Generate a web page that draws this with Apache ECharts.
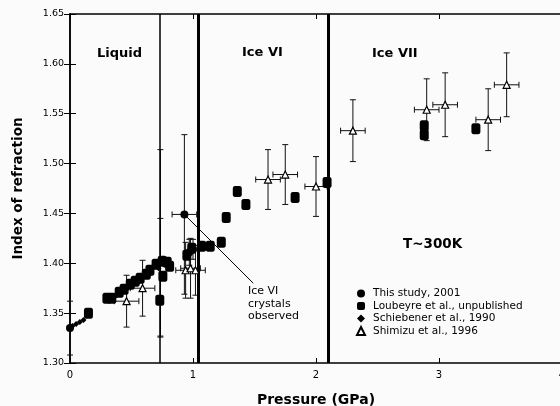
<!DOCTYPE html>
<html><head><meta charset="utf-8">
<script src="https://cdn.jsdelivr.net/npm/echarts@6/dist/echarts.min.js"></script>
<style>html,body{margin:0;padding:0;background:#fbfbfb;overflow:hidden}#c{width:560px;height:406px}</style>
</head><body><div id="c"></div>
<script>
// ---- data ----
const xTicks = [0, 1, 2, 3, 4];
const yTicks = [1.30, 1.35, 1.40, 1.45, 1.50, 1.55, 1.60, 1.65];
const seriesNames = ['This study, 2001', 'Loubeyre et al., unpublished', 'Schiebener et al., 1990', 'Shimizu et al., 1996'];
// This study: [P, n, errP, errN]
const thisStudy = [
  [0.00, 1.335, 0.02, 0.027],
  [0.93, 1.449, 0.10, 0.080],
  [0.97, 1.411, 0.00, 0.013],
  [1.00, 1.414, 0.00, 0.010],
  [0.735, 1.420, 0.00, 0.094],
  [0.735, 1.386, 0.00, 0.059]
];
// Loubeyre squares: [P, n]
const loubeyre = [
  [0.15, 1.350], [0.30, 1.365], [0.34, 1.365], [0.40, 1.371], [0.44, 1.374],
  [0.49, 1.379], [0.53, 1.382], [0.57, 1.385], [0.62, 1.389], [0.65, 1.393],
  [0.70, 1.399], [0.75, 1.402], [0.79, 1.401], [0.81, 1.397], [0.73, 1.363],
  [0.755, 1.387], [0.95, 1.408], [0.99, 1.415], [1.07, 1.417], [1.14, 1.417],
  [1.23, 1.421], [1.27, 1.446], [1.36, 1.472], [1.43, 1.459], [1.83, 1.466],
  [2.09, 1.481], [2.88, 1.538], [2.88, 1.529], [3.30, 1.535]
];
// Schiebener small diamonds: [P, n]
const schiebener = [
  [0.02, 1.337], [0.05, 1.339], [0.08, 1.341], [0.11, 1.343],
  [0.38, 1.368], [0.46, 1.374], [0.55, 1.380], [0.64, 1.388], [0.72, 1.395]
];
// Shimizu open triangles: [P, n, errP, errN]
const shimizu = [
  [0.46, 1.362, 0.10, 0.026], [0.59, 1.375, 0.10, 0.028],
  [0.94, 1.393, 0.08, 0.028], [0.98, 1.395, 0.08, 0.030], [1.02, 1.393, 0.08, 0.025],
  [1.61, 1.484, 0.10, 0.030], [1.75, 1.489, 0.10, 0.030], [2.00, 1.477, 0.09, 0.030],
  [2.30, 1.533, 0.10, 0.031], [2.90, 1.554, 0.10, 0.031], [3.05, 1.559, 0.10, 0.032],
  [3.40, 1.544, 0.10, 0.031], [3.55, 1.579, 0.10, 0.032]
];
// phase boundaries (GPa)
const thinBoundary = 0.73;
const phaseBoundaries = [1.045, 2.10];
const annotationLine = [[0.93, 1.449], [1.49, 1.380]];

// ---- chart ----
const FONT = 'DejaVu Sans';
const chart = echarts.init(document.getElementById('c'), null, {renderer: 'canvas'});

function errRender(params, api) {
  const x = api.value(0), y = api.value(1), ex = api.value(2), ey = api.value(3);
  const ch = [];
  const st = {stroke: '#111', lineWidth: 1};
  const cap = 3;
  function ln(a, b) { ch.push({type: 'line', shape: {x1: a[0], y1: a[1], x2: b[0], y2: b[1]}, style: st}); }
  if (ex > 0) {
    const l = api.coord([x - ex, y]), r = api.coord([x + ex, y]);
    ln(l, r); ln([l[0], l[1] - cap], [l[0], l[1] + cap]); ln([r[0], r[1] - cap], [r[0], r[1] + cap]);
  }
  if (ey > 0) {
    const t = api.coord([x, y + ey]), b = api.coord([x, y - ey]);
    ln(t, b); ln([t[0] - cap, t[1]], [t[0] + cap, t[1]]); ln([b[0] - cap, b[1]], [b[0] + cap, b[1]]);
  }
  return {type: 'group', children: ch};
}

const axisCommon = {
  axisLine: {show: true, lineStyle: {color: '#000', width: 1.5}},
  splitLine: {show: false}
};

const option = {
  backgroundColor: '#fbfbfb',
  animation: false,
  grid: {left: 70, right: -2, top: 14, bottom: 43, containLabel: false, outerBoundsMode: 'none'},
  xAxis: [
    Object.assign({}, axisCommon, {
      type: 'value', min: xTicks[0], max: xTicks[xTicks.length - 1], interval: 1,
      axisTick: {inside: true, length: 5, lineStyle: {color: '#000'}},
      axisLabel: {color: '#000', fontFamily: FONT, fontSize: 10, margin: 7},
      name: 'Pressure (GPa)', nameLocation: 'middle', nameGap: 30,
      nameTextStyle: {color: '#000', fontFamily: FONT, fontWeight: 'bold', fontSize: 14}
    }),
    Object.assign({}, axisCommon, {
      type: 'value', position: 'top', min: xTicks[0], max: xTicks[xTicks.length - 1], interval: 1,
      axisTick: {inside: true, length: 5, lineStyle: {color: '#000'}},
      axisLabel: {show: false}
    })
  ],
  yAxis: [
    Object.assign({}, axisCommon, {
      type: 'value', min: yTicks[0], max: yTicks[yTicks.length - 1], interval: 0.05,
      axisTick: {inside: true, length: 6, lineStyle: {color: '#000'}},
      axisLabel: {color: '#000', fontFamily: FONT, fontSize: 9.5, margin: 6, formatter: v => v.toFixed(2)},
      name: 'Index of refraction', nameLocation: 'middle', nameGap: 45, nameRotate: 90,
      nameTextStyle: {color: '#000', fontFamily: FONT, fontWeight: 'bold', fontSize: 13.5}
    }),
    Object.assign({}, axisCommon, {
      type: 'value', position: 'right', min: yTicks[0], max: yTicks[yTicks.length - 1], interval: 0.05,
      axisTick: {inside: true, length: 6, lineStyle: {color: '#000'}},
      axisLabel: {show: false}
    })
  ],
  legend: {
    orient: 'vertical', left: 351, top: 283, itemWidth: 8, itemHeight: 8, itemGap: 1.5,
    data: seriesNames,
    textStyle: {color: '#000', fontFamily: FONT, fontSize: 10.5, padding: [0, 0, 0, 3]}
  },
  graphic: [
    {type: 'text', left: 97, top: 47, style: {text: 'Liquid', font: 'bold 13px "DejaVu Sans"', fill: '#000'}},
    {type: 'text', left: 242, top: 46, style: {text: 'Ice VI', font: 'bold 13px "DejaVu Sans"', fill: '#000'}},
    {type: 'text', left: 372, top: 47, style: {text: 'Ice VII', font: 'bold 13px "DejaVu Sans"', fill: '#000'}},
    {type: 'text', left: 403, top: 237, style: {text: 'T~300K', font: 'bold 13.5px "DejaVu Sans"', fill: '#000'}},
    {type: 'text', left: 248, top: 285, style: {text: 'Ice VI\ncrystals\nobserved', font: '11px "DejaVu Sans"', lineHeight: 12.5, fill: '#000'}}
  ],
  series: [
    {
      type: 'line', data: [], silent: true,
      markLine: {
        symbol: 'none', silent: true, label: {show: false},
        data: [
          {xAxis: thinBoundary, lineStyle: {color: '#000', width: 1.5, type: 'solid'}},
          {xAxis: phaseBoundaries[0], lineStyle: {color: '#000', width: 3, type: 'solid'}},
          {xAxis: phaseBoundaries[1], lineStyle: {color: '#000', width: 3, type: 'solid'}},
          [{coord: annotationLine[0], lineStyle: {color: '#000', width: 1, type: 'solid'}}, {coord: annotationLine[1]}]
        ]
      }
    },
    {type: 'custom', renderItem: errRender, data: thisStudy, encode: {x: 0, y: 1}, z: 2, silent: true},
    {type: 'custom', renderItem: errRender, data: shimizu, encode: {x: 0, y: 1}, z: 2, silent: true},
    {name: seriesNames[1], type: 'scatter', data: loubeyre, symbol: 'roundRect', symbolSize: [9, 11],
     itemStyle: {color: '#000', opacity: 1}, z: 3},
    {name: seriesNames[2], type: 'scatter', data: schiebener, symbol: 'diamond', symbolSize: 6,
     itemStyle: {color: '#000', opacity: 1}, z: 4},
    {name: seriesNames[0], type: 'scatter', data: thisStudy.map(d => [d[0], d[1]]).filter((d, i) => i < 4),
     symbol: 'circle', symbolSize: 8, itemStyle: {color: '#000', opacity: 1}, z: 5},
    {name: seriesNames[3], type: 'scatter', data: shimizu.map(d => [d[0], d[1]]), symbol: 'triangle', symbolSize: 7,
     itemStyle: {color: '#fff', borderColor: '#000', borderWidth: 1.2, opacity: 1}, z: 6}
  ]
};
chart.setOption(option);
</script></body></html>
